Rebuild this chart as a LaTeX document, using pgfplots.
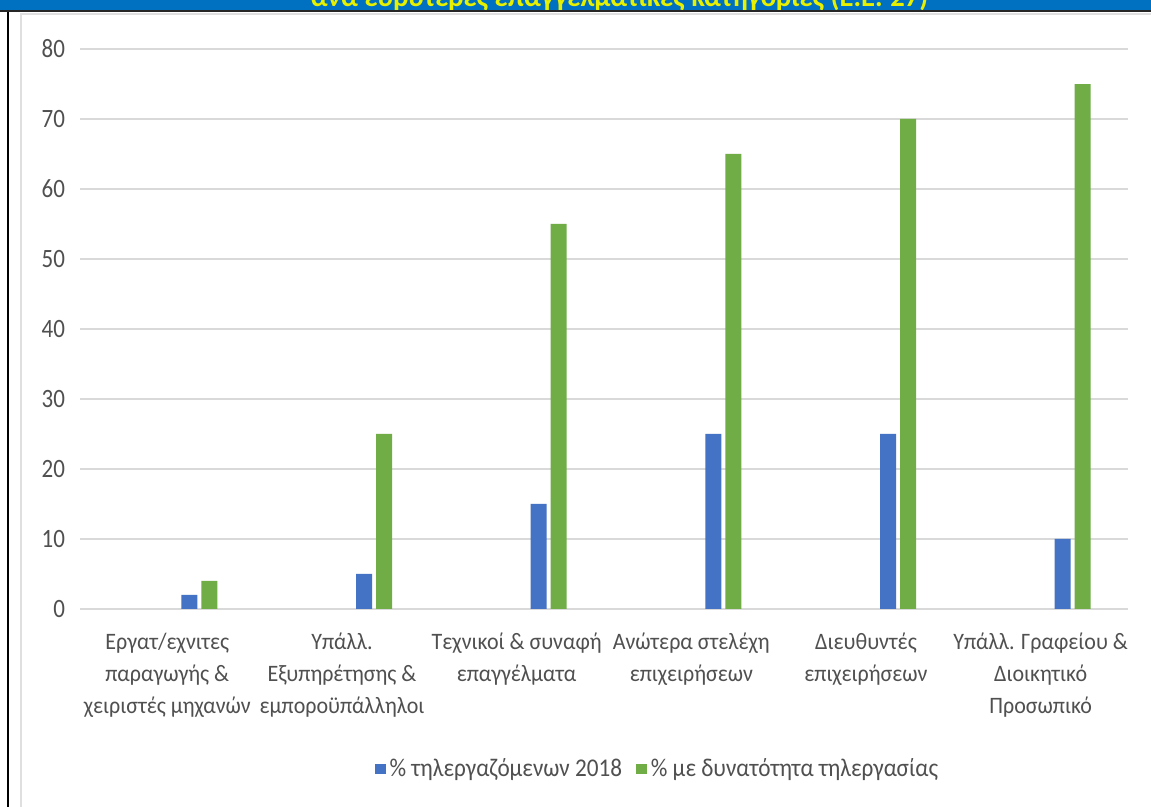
\documentclass[border=0pt]{standalone}
\usepackage{pgfplots}
\pgfplotsset{compat=1.18}
\usepackage{fontspec}
\setmainfont{Carlito}
\usepackage{graphicx}

\definecolor{barblue}{HTML}{4472C4}
\definecolor{bargreen}{HTML}{70AD47}
\definecolor{labelgray}{HTML}{505050}
\definecolor{gridgray}{HTML}{D9D9D9}
\definecolor{bannerblue}{HTML}{0070C0}
\definecolor{titleyellow}{HTML}{E6F000}

% share of teleworkers (2018) and share that could telework, EU-27
\pgfplotstableread{
x teleworking possible
0 2  4
1 5  25
2 15 55
3 25 65
4 25 70
5 10 75
}\jobdata

\newcommand{\tl}[1]{\scalebox{1}[1.07]{\begin{tabular}{@{}c@{}}#1\end{tabular}}}

\begin{document}
\begin{tikzpicture}
\useasboundingbox (0pt,0pt) rectangle (575.5pt,403.5pt);
\clip (0pt,0pt) rectangle (575.5pt,403.5pt);
\fill[white] (0pt,0pt) rectangle (575.5pt,403.5pt);

% banner with the (cropped) title
\fill[bannerblue] (0pt,398.5pt) rectangle (575.5pt,403.5pt);
\node[anchor=base, text=titleyellow, font=\bfseries\fontsize{14.3}{16}\selectfont, inner sep=0pt]
  at (309.75pt,400.2pt) {ανά ευρύτερες επαγγελματικές κατηγορίες (Ε.Ε.-27)};
\fill[black!85] (0pt,397.5pt) rectangle (575.5pt,398.6pt);

% frame
\draw[black, line width=1pt] (4pt,0pt) -- (4pt,397.5pt);
\draw[gray!25, line width=1pt] (10.5pt,0pt) -- (10.5pt,396.5pt) -- (575.5pt,396.5pt);

\begin{axis}[
  at={(40pt,99pt)}, anchor=south west,
  scale only axis, width=524pt, height=280pt,
  xmin=-0.5, xmax=5.5, ymin=0, ymax=80,
  ytick={0,10,...,80},
  ymajorgrids, major grid style={gridgray, line width=0.6pt},
  axis line style={draw=none},
  axis x line*=bottom,
  x axis line style={draw=gridgray, line width=0.6pt},
  tick style={draw=none},
  xtick={0,...,5},
  /pgf/number format/assume math mode=true,
  yticklabel={\scalebox{1}[1.15]{\pgfmathprintnumber{\tick}}},
  yticklabel style={text=labelgray, font=\fontsize{11.5}{13}\selectfont, xshift=-4pt},
  xticklabel style={text=labelgray, font=\fontsize{11}{14.8}\selectfont, anchor=north, yshift=-5.8pt},
  xticklabels={
    {\tl{Εργατ/εχνιτες\\παραγωγής \&\\χειριστές μηχανών}},
    {\tl{Υπάλλ.\\Εξυπηρέτησης \&\\εμποροϋπάλληλοι}},
    {\tl{Τεχνικοί \& συναφή\\επαγγέλματα}},
    {\tl{Ανώτερα στελέχη\\επιχειρήσεων}},
    {\tl{Διευθυντές\\επιχειρήσεων}},
    {\tl{Υπάλλ. Γραφείου \&\\Διοικητικό\\Προσωπικό}}
  },
  legend columns=2,
  legend style={draw=none, fill=none, at={(0.552,-0.2857)}, anchor=center,
    font=\fontsize{11.6}{13}\selectfont, text=labelgray,
    /tikz/every even column/.append style={column sep=5pt}},
  legend cell align=left,
  legend image code/.code={\fill[#1] (0pt,-2.7pt) rectangle (5.4pt,2.7pt);},
]
\addplot[ybar, bar width=8pt, bar shift=11pt, fill=barblue, draw=none]
  table[x=x, y=teleworking] {\jobdata};
\addlegendentry{\scalebox{1}[1.1]{\% τηλεργαζόμενων 2018}}
\addplot[ybar, bar width=8pt, bar shift=21pt, fill=bargreen, draw=none]
  table[x=x, y=possible] {\jobdata};
\addlegendentry{\scalebox{1}[1.1]{\% με δυνατότητα τηλεργασίας}}
\end{axis}
\end{tikzpicture}
\end{document}
